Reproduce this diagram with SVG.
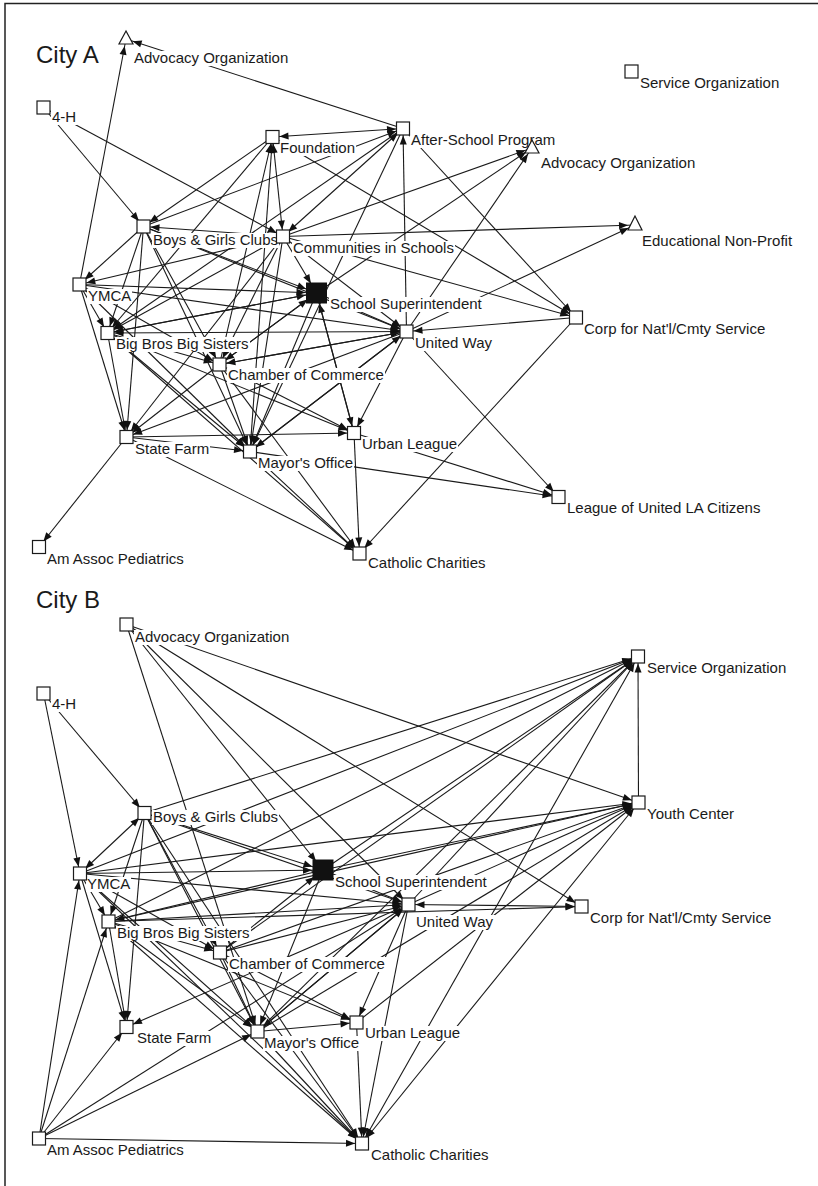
<svg xmlns="http://www.w3.org/2000/svg" width="818" height="1186" viewBox="0 0 818 1186">
<style>
.ed line{stroke:#1a1a1a;stroke-width:1.1;fill:none}
.e{marker-end:url(#a)}
.b{marker-start:url(#a);marker-end:url(#a)}
.s{marker-end:url(#as)}
.sq{fill:#fff;stroke:#1a1a1a;stroke-width:1.2}
.bk{fill:#111;stroke:#111;stroke-width:1}
.lb{fill:#fff}
text{font-family:"Liberation Sans",Arial,sans-serif;font-size:15px;fill:#1a1a1a}
.ttl{font-size:24px}
</style>
<defs>
<marker id="a" markerUnits="userSpaceOnUse" markerWidth="9" markerHeight="7" refX="16" refY="3.5" orient="auto-start-reverse" overflow="visible"><path d="M0,0 L9,3.5 L0,7 z" fill="#111"/></marker>
<marker id="as" markerUnits="userSpaceOnUse" markerWidth="9" markerHeight="7" refX="20" refY="3.5" orient="auto" overflow="visible"><path d="M0,0 L9,3.5 L0,7 z" fill="#111"/></marker>
</defs>
<rect width="818" height="1186" fill="#fff"/>
<path d="M5,1186 V3.5 H818" fill="none" stroke="#222" stroke-width="1.5"/>
<text class="ttl" x="36" y="63">City A</text>
<text class="ttl" x="36" y="608">City B</text>
<g class="ed" id="edges-a">
<line class="e" x1="79.5" y1="284.5" x2="126" y2="39"/>
<line class="e" x1="403" y1="128.5" x2="126" y2="39"/>
<line class="e" x1="43.5" y1="107.5" x2="143.5" y2="226.5"/>
<line class="e" x1="43.5" y1="107.5" x2="283" y2="236.5"/>
<line class="b" x1="272.5" y1="137" x2="403" y2="128.5"/>
<line class="b" x1="272.5" y1="137" x2="283" y2="236.5"/>
<line class="e" x1="143.5" y1="226.5" x2="403" y2="128.5"/>
<line class="e" x1="272.5" y1="137" x2="143.5" y2="226.5"/>
<line class="b" x1="283" y1="236.5" x2="403" y2="128.5"/>
<line class="e" x1="403" y1="128.5" x2="107.5" y2="333"/>
<line class="e" x1="403" y1="128.5" x2="250" y2="451.5"/>
<line class="e" x1="406.5" y1="331.5" x2="403" y2="128.5"/>
<line class="e" x1="403" y1="128.5" x2="576" y2="317.5"/>
<line class="e" x1="272.5" y1="137" x2="576" y2="317.5"/>
<line class="e" x1="272.5" y1="137" x2="107.5" y2="333"/>
<line class="e" x1="219.5" y1="364.5" x2="272.5" y2="137"/>
<line class="e" x1="250" y1="451.5" x2="272.5" y2="137"/>
<line class="e" x1="283" y1="236.5" x2="532" y2="148"/>
<line class="e" x1="316.5" y1="293" x2="532" y2="148"/>
<line class="e" x1="406.5" y1="331.5" x2="532" y2="148"/>
<line class="e" x1="283" y1="236.5" x2="635" y2="225"/>
<line class="e" x1="406.5" y1="331.5" x2="635" y2="225"/>
<line class="e" x1="283" y1="236.5" x2="79.5" y2="284.5"/>
<line class="e" x1="143.5" y1="226.5" x2="79.5" y2="284.5"/>
<line class="s" x1="283" y1="236.5" x2="316.5" y2="293"/>
<line class="s" x1="143.5" y1="226.5" x2="316.5" y2="293"/>
<line class="s" x1="79.5" y1="284.5" x2="316.5" y2="293"/>
<line class="s" x1="107.5" y1="333" x2="316.5" y2="293"/>
<line class="s" x1="219.5" y1="364.5" x2="316.5" y2="293"/>
<line class="s" x1="354" y1="433" x2="316.5" y2="293"/>
<line class="e" x1="316.5" y1="293" x2="406.5" y2="331.5"/>
<line class="e" x1="576" y1="317.5" x2="406.5" y2="331.5"/>
<line class="e" x1="576" y1="317.5" x2="359.5" y2="553.5"/>
<line class="e" x1="406.5" y1="331.5" x2="354" y2="433"/>
<line class="e" x1="406.5" y1="331.5" x2="558.5" y2="497"/>
<line class="e" x1="250" y1="451.5" x2="558.5" y2="497"/>
<line class="e" x1="354" y1="433" x2="558.5" y2="497"/>
<line class="e" x1="126.5" y1="437" x2="359.5" y2="553.5"/>
<line class="e" x1="354" y1="433" x2="359.5" y2="553.5"/>
<line class="e" x1="250" y1="451.5" x2="359.5" y2="553.5"/>
<line class="e" x1="219.5" y1="364.5" x2="359.5" y2="553.5"/>
<line class="e" x1="107.5" y1="333" x2="359.5" y2="553.5"/>
<line class="e" x1="126.5" y1="437" x2="39" y2="547"/>
<line class="e" x1="126.5" y1="437" x2="250" y2="451.5"/>
<line class="e" x1="126.5" y1="437" x2="354" y2="433"/>
<line class="e" x1="79.5" y1="284.5" x2="126.5" y2="437"/>
<line class="e" x1="107.5" y1="333" x2="126.5" y2="437"/>
<line class="e" x1="143.5" y1="226.5" x2="126.5" y2="437"/>
<line class="e" x1="219.5" y1="364.5" x2="126.5" y2="437"/>
<line class="e" x1="283" y1="236.5" x2="126.5" y2="437"/>
<line class="e" x1="79.5" y1="284.5" x2="107.5" y2="333"/>
<line class="e" x1="143.5" y1="226.5" x2="107.5" y2="333"/>
<line class="e" x1="107.5" y1="333" x2="219.5" y2="364.5"/>
<line class="e" x1="107.5" y1="333" x2="250" y2="451.5"/>
<line class="b" x1="107.5" y1="333" x2="406.5" y2="331.5"/>
<line class="e" x1="219.5" y1="364.5" x2="250" y2="451.5"/>
<line class="e" x1="219.5" y1="364.5" x2="354" y2="433"/>
<line class="e" x1="219.5" y1="364.5" x2="406.5" y2="331.5"/>
<line class="e" x1="250" y1="451.5" x2="406.5" y2="331.5"/>
<line class="e" x1="79.5" y1="284.5" x2="406.5" y2="331.5"/>
<line class="e" x1="143.5" y1="226.5" x2="406.5" y2="331.5"/>
<line class="e" x1="283" y1="236.5" x2="406.5" y2="331.5"/>
<line class="e" x1="143.5" y1="226.5" x2="219.5" y2="364.5"/>
<line class="e" x1="143.5" y1="226.5" x2="250" y2="451.5"/>
<line class="e" x1="283" y1="236.5" x2="219.5" y2="364.5"/>
<line class="e" x1="283" y1="236.5" x2="250" y2="451.5"/>
<line class="e" x1="283" y1="236.5" x2="107.5" y2="333"/>
<line class="e" x1="316.5" y1="293" x2="219.5" y2="364.5"/>
<line class="e" x1="316.5" y1="293" x2="250" y2="451.5"/>
<line class="e" x1="406.5" y1="331.5" x2="250" y2="451.5"/>
<line class="e" x1="406.5" y1="331.5" x2="219.5" y2="364.5"/>
<line class="e" x1="79.5" y1="284.5" x2="219.5" y2="364.5"/>
<line class="e" x1="79.5" y1="284.5" x2="250" y2="451.5"/>
<line class="e" x1="316.5" y1="293" x2="354" y2="433"/>
<line class="e" x1="107.5" y1="333" x2="354" y2="433"/>
<line class="e" x1="406.5" y1="331.5" x2="126.5" y2="437"/>
<line class="b" x1="143.5" y1="226.5" x2="283" y2="236.5"/>
<line class="e" x1="283" y1="236.5" x2="576" y2="317.5"/>
<line class="e" x1="316.5" y1="293" x2="107.5" y2="333"/>
</g>
<g class="ed" id="edges-b">
<line class="e" x1="43.5" y1="693.5" x2="80" y2="873.5"/>
<line class="e" x1="43.5" y1="693.5" x2="144.5" y2="813"/>
<line class="e" x1="126.5" y1="624.5" x2="257.5" y2="1031.5"/>
<line class="s" x1="126.5" y1="624.5" x2="323" y2="870"/>
<line class="e" x1="126.5" y1="624.5" x2="408.5" y2="904.5"/>
<line class="e" x1="126.5" y1="624.5" x2="581.5" y2="906.5"/>
<line class="e" x1="126.5" y1="624.5" x2="638.5" y2="802.5"/>
<line class="e" x1="638.5" y1="802.5" x2="638" y2="656.5"/>
<line class="e" x1="39" y1="1138.5" x2="80" y2="873.5"/>
<line class="e" x1="39" y1="1138.5" x2="108.5" y2="921.5"/>
<line class="e" x1="39" y1="1138.5" x2="126.5" y2="1027"/>
<line class="e" x1="39" y1="1138.5" x2="257.5" y2="1031.5"/>
<line class="e" x1="39" y1="1138.5" x2="408.5" y2="904.5"/>
<line class="e" x1="39" y1="1138.5" x2="362" y2="1143.5"/>
<line class="b" x1="80" y1="873.5" x2="144.5" y2="813"/>
<line class="e" x1="80" y1="873.5" x2="108.5" y2="921.5"/>
<line class="e" x1="80" y1="873.5" x2="126.5" y2="1027"/>
<line class="s" x1="80" y1="873.5" x2="323" y2="870"/>
<line class="e" x1="80" y1="873.5" x2="408.5" y2="904.5"/>
<line class="e" x1="80" y1="873.5" x2="638" y2="656.5"/>
<line class="e" x1="80" y1="873.5" x2="638.5" y2="802.5"/>
<line class="e" x1="80" y1="873.5" x2="220" y2="952.5"/>
<line class="s" x1="144.5" y1="813" x2="323" y2="870"/>
<line class="e" x1="144.5" y1="813" x2="408.5" y2="904.5"/>
<line class="e" x1="144.5" y1="813" x2="108.5" y2="921.5"/>
<line class="e" x1="144.5" y1="813" x2="126.5" y2="1027"/>
<line class="e" x1="144.5" y1="813" x2="220" y2="952.5"/>
<line class="e" x1="144.5" y1="813" x2="257.5" y2="1031.5"/>
<line class="e" x1="323" y1="870" x2="408.5" y2="904.5"/>
<line class="e" x1="323" y1="870" x2="638" y2="656.5"/>
<line class="e" x1="323" y1="870" x2="638.5" y2="802.5"/>
<line class="b" x1="408.5" y1="904.5" x2="581.5" y2="906.5"/>
<line class="e" x1="108.5" y1="921.5" x2="581.5" y2="906.5"/>
<line class="e" x1="408.5" y1="904.5" x2="638" y2="656.5"/>
<line class="e" x1="408.5" y1="904.5" x2="638.5" y2="802.5"/>
<line class="e" x1="408.5" y1="904.5" x2="356.5" y2="1022.5"/>
<line class="e" x1="408.5" y1="904.5" x2="362" y2="1143.5"/>
<line class="e" x1="408.5" y1="904.5" x2="257.5" y2="1031.5"/>
<line class="e" x1="408.5" y1="904.5" x2="126.5" y2="1027"/>
<line class="e" x1="108.5" y1="921.5" x2="408.5" y2="904.5"/>
<line class="e" x1="108.5" y1="921.5" x2="638" y2="656.5"/>
<line class="e" x1="108.5" y1="921.5" x2="638.5" y2="802.5"/>
<line class="e" x1="108.5" y1="921.5" x2="220" y2="952.5"/>
<line class="e" x1="108.5" y1="921.5" x2="257.5" y2="1031.5"/>
<line class="e" x1="108.5" y1="921.5" x2="126.5" y2="1027"/>
<line class="e" x1="108.5" y1="921.5" x2="362" y2="1143.5"/>
<line class="e" x1="108.5" y1="921.5" x2="356.5" y2="1022.5"/>
<line class="e" x1="220" y1="952.5" x2="408.5" y2="904.5"/>
<line class="e" x1="220" y1="952.5" x2="257.5" y2="1031.5"/>
<line class="e" x1="220" y1="952.5" x2="356.5" y2="1022.5"/>
<line class="e" x1="220" y1="952.5" x2="362" y2="1143.5"/>
<line class="e" x1="220" y1="952.5" x2="638" y2="656.5"/>
<line class="e" x1="220" y1="952.5" x2="638.5" y2="802.5"/>
<line class="s" x1="220" y1="952.5" x2="323" y2="870"/>
<line class="e" x1="257.5" y1="1031.5" x2="408.5" y2="904.5"/>
<line class="e" x1="257.5" y1="1031.5" x2="638" y2="656.5"/>
<line class="e" x1="257.5" y1="1031.5" x2="638.5" y2="802.5"/>
<line class="e" x1="257.5" y1="1031.5" x2="362" y2="1143.5"/>
<line class="e" x1="257.5" y1="1031.5" x2="356.5" y2="1022.5"/>
<line class="e" x1="356.5" y1="1022.5" x2="362" y2="1143.5"/>
<line class="b" x1="362" y1="1143.5" x2="638" y2="656.5"/>
<line class="b" x1="362" y1="1143.5" x2="638.5" y2="802.5"/>
<line class="e" x1="323" y1="870" x2="257.5" y2="1031.5"/>
<line class="e" x1="323" y1="870" x2="108.5" y2="921.5"/>
<line class="e" x1="80" y1="873.5" x2="257.5" y2="1031.5"/>
<line class="e" x1="80" y1="873.5" x2="362" y2="1143.5"/>
<line class="e" x1="144.5" y1="813" x2="362" y2="1143.5"/>
<line class="e" x1="144.5" y1="813" x2="638" y2="656.5"/>
<line class="e" x1="356.5" y1="1022.5" x2="638.5" y2="802.5"/>
</g>
<g id="nodes-a">
<g id="a-advocacy"><rect class="lb" x="133" y="51" width="156" height="15"/><text x="134" y="63">Advocacy Organization</text><polygon class="sq" points="126,31 119,44 133,44"/></g>
<g id="a-4h"><rect class="lb" x="51" y="110" width="26" height="15"/><text x="52" y="122">4-H</text><rect class="sq" x="37" y="101" width="13" height="13"/></g>
<g id="a-foundation"><rect class="lb" x="279" y="141" width="77" height="15"/><text x="280" y="153">Foundation</text><rect class="sq" x="266" y="130.5" width="13" height="13"/></g>
<g id="a-afterschool"><rect class="lb" x="410" y="133" width="146" height="15"/><text x="411" y="145">After-School Program</text><rect class="sq" x="396.5" y="122" width="13" height="13"/></g>
<g id="a-advocacy2"><rect class="lb" x="540" y="156" width="156" height="15"/><text x="541" y="168">Advocacy Organization</text><polygon class="sq" points="532,140 525,153 539,153"/></g>
<g id="a-service"><rect class="lb" x="639" y="76" width="141" height="15"/><text x="640" y="88">Service Organization</text><rect class="sq" x="625" y="65" width="13" height="13"/></g>
<g id="a-ednonprofit"><rect class="lb" x="641" y="234" width="152" height="15"/><text x="642" y="246">Educational Non-Profit</text><polygon class="sq" points="635,216 628,230 642,230"/></g>
<g id="a-bgc"><rect class="lb" x="152" y="233" width="127" height="15"/><text x="153" y="245">Boys &amp; Girls Clubs</text><rect class="sq" x="137" y="220" width="13" height="13"/></g>
<g id="a-cis"><rect class="lb" x="292" y="241" width="163" height="15"/><text x="293" y="253">Communities in Schools</text><rect class="sq" x="276.5" y="230" width="13" height="13"/></g>
<g id="a-ymca"><rect class="lb" x="87" y="289" width="45" height="15"/><text x="88" y="301">YMCA</text><rect class="sq" x="73" y="278" width="13" height="13"/></g>
<g id="a-superintendent"><rect class="lb" x="329" y="297" width="154" height="15"/><text x="330" y="309">School Superintendent</text><rect class="bk" x="306.5" y="283" width="20" height="20"/></g>
<g id="a-unitedway"><rect class="lb" x="414" y="336" width="80" height="15"/><text x="415" y="348">United Way</text><rect class="sq" x="400" y="325" width="13" height="13"/></g>
<g id="a-corp"><rect class="lb" x="583" y="322" width="183" height="15"/><text x="584" y="334">Corp for Nat'l/Cmty Service</text><rect class="sq" x="569.5" y="311" width="13" height="13"/></g>
<g id="a-bbbs"><rect class="lb" x="115" y="337" width="135" height="15"/><text x="116" y="349">Big Bros Big Sisters</text><rect class="sq" x="101" y="326.5" width="13" height="13"/></g>
<g id="a-chamber"><rect class="lb" x="227" y="368" width="158" height="15"/><text x="228" y="380">Chamber of Commerce</text><rect class="sq" x="213" y="358" width="13" height="13"/></g>
<g id="a-statefarm"><rect class="lb" x="134" y="442" width="76" height="15"/><text x="135" y="454">State Farm</text><rect class="sq" x="120" y="430.5" width="13" height="13"/></g>
<g id="a-mayor"><rect class="lb" x="257" y="456" width="97" height="15"/><text x="258" y="468">Mayor's Office</text><rect class="sq" x="243.5" y="445" width="13" height="13"/></g>
<g id="a-urbanleague"><rect class="lb" x="361" y="437" width="97" height="15"/><text x="362" y="449">Urban League</text><rect class="sq" x="347.5" y="426.5" width="13" height="13"/></g>
<g id="a-lulac"><rect class="lb" x="566" y="501" width="196" height="15"/><text x="567" y="513">League of United LA Citizens</text><rect class="sq" x="552" y="490.5" width="13" height="13"/></g>
<g id="a-aap"><rect class="lb" x="46" y="552" width="140" height="15"/><text x="47" y="564">Am Assoc Pediatrics</text><rect class="sq" x="32.5" y="540.5" width="13" height="13"/></g>
<g id="a-catholic"><rect class="lb" x="367" y="556" width="120" height="15"/><text x="368" y="568">Catholic Charities</text><rect class="sq" x="353" y="547" width="13" height="13"/></g>
</g>
<g id="nodes-b">
<g id="b-advocacy"><rect class="lb" x="134" y="630" width="156" height="15"/><text x="135" y="642">Advocacy Organization</text><rect class="sq" x="120" y="618" width="13" height="13"/></g>
<g id="b-4h"><rect class="lb" x="51" y="697" width="26" height="15"/><text x="52" y="709">4-H</text><rect class="sq" x="37" y="687" width="13" height="13"/></g>
<g id="b-service"><rect class="lb" x="646" y="661" width="141" height="15"/><text x="647" y="673">Service Organization</text><rect class="sq" x="631.5" y="650" width="13" height="13"/></g>
<g id="b-youth"><rect class="lb" x="646" y="807" width="90" height="15"/><text x="647" y="819">Youth Center</text><rect class="sq" x="632" y="796" width="13" height="13"/></g>
<g id="b-bgc"><rect class="lb" x="152" y="810" width="127" height="15"/><text x="153" y="822">Boys &amp; Girls Clubs</text><rect class="sq" x="138" y="806.5" width="13" height="13"/></g>
<g id="b-ymca"><rect class="lb" x="86" y="877" width="45" height="15"/><text x="87" y="889">YMCA</text><rect class="sq" x="73.5" y="867" width="13" height="13"/></g>
<g id="b-superintendent"><rect class="lb" x="334" y="875" width="154" height="15"/><text x="335" y="887">School Superintendent</text><rect class="bk" x="313" y="860" width="20" height="20"/></g>
<g id="b-unitedway"><rect class="lb" x="415" y="915" width="80" height="15"/><text x="416" y="927">United Way</text><rect class="sq" x="402" y="898" width="13" height="13"/></g>
<g id="b-corp"><rect class="lb" x="589" y="911" width="183" height="15"/><text x="590" y="923">Corp for Nat'l/Cmty Service</text><rect class="sq" x="575" y="900" width="13" height="13"/></g>
<g id="b-bbbs"><rect class="lb" x="116" y="926" width="135" height="15"/><text x="117" y="938">Big Bros Big Sisters</text><rect class="sq" x="102" y="915" width="13" height="13"/></g>
<g id="b-chamber"><rect class="lb" x="228" y="957" width="158" height="15"/><text x="229" y="969">Chamber of Commerce</text><rect class="sq" x="213.5" y="946" width="13" height="13"/></g>
<g id="b-statefarm"><rect class="lb" x="136" y="1031" width="76" height="15"/><text x="137" y="1043">State Farm</text><rect class="sq" x="120" y="1020.5" width="13" height="13"/></g>
<g id="b-mayor"><rect class="lb" x="263" y="1036" width="97" height="15"/><text x="264" y="1048">Mayor's Office</text><rect class="sq" x="251" y="1025" width="13" height="13"/></g>
<g id="b-urbanleague"><rect class="lb" x="364" y="1026" width="97" height="15"/><text x="365" y="1038">Urban League</text><rect class="sq" x="350" y="1016" width="13" height="13"/></g>
<g id="b-aap"><rect class="lb" x="46" y="1143" width="140" height="15"/><text x="47" y="1155">Am Assoc Pediatrics</text><rect class="sq" x="32.5" y="1132" width="13" height="13"/></g>
<g id="b-catholic"><rect class="lb" x="370" y="1148" width="120" height="15"/><text x="371" y="1160">Catholic Charities</text><rect class="sq" x="355.5" y="1137" width="13" height="13"/></g>
</g>
</svg>
